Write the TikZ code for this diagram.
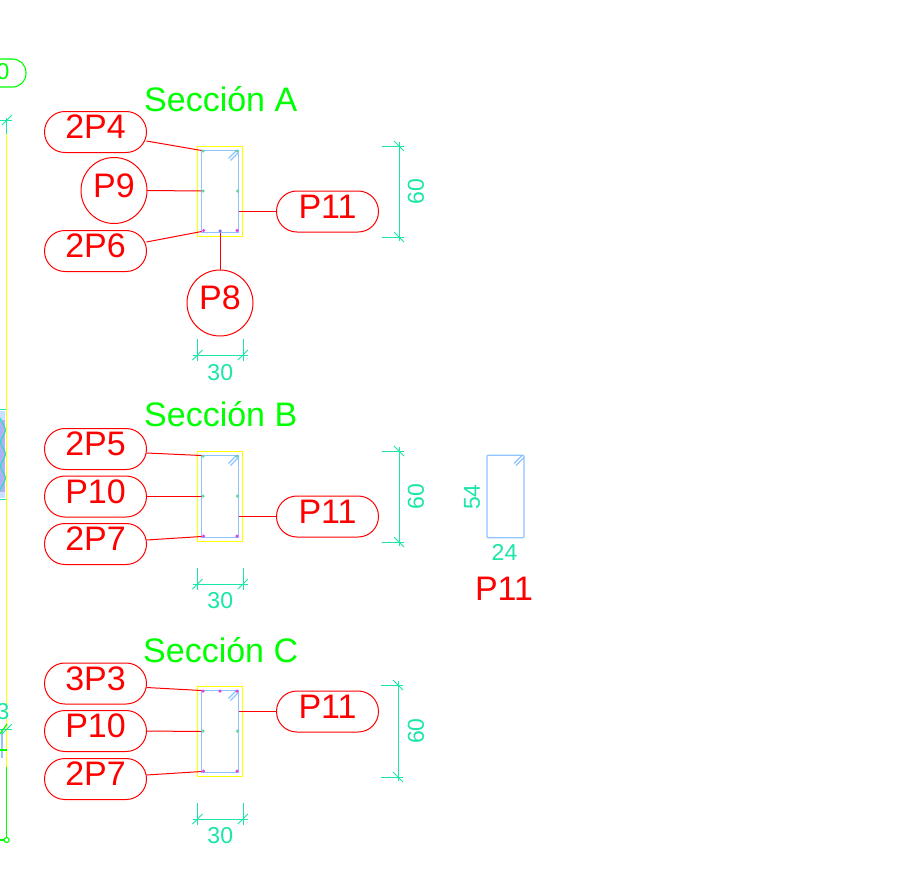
\documentclass[tikz,border=0pt]{standalone}
\usepackage{fontspec}
\setmainfont{Liberation Sans}
\definecolor{cadred}{HTML}{FF0000}
\definecolor{cadgreen}{HTML}{00FF00}
\definecolor{cadteal}{HTML}{19E6A8}
\definecolor{cadblue}{HTML}{8FC4FF}
\definecolor{cadyellow}{HTML}{FFFF00}
\definecolor{cadmag}{HTML}{E040F0}
\definecolor{cadmid}{HTML}{60D8A0}
\definecolor{cadvio}{HTML}{7070F0}
\tikzset{
  pill/.style={draw=cadred,line width=1pt,rounded corners=20.4pt,minimum width=102pt,minimum height=41pt,inner sep=0pt,outer sep=0pt,text=cadred,font=\fontsize{34}{34}\selectfont,text height=23pt,text depth=10pt},
  bubble/.style={circle,draw=cadred,line width=1pt,minimum size=66pt,inner sep=0pt,outer sep=0pt,text=cadred,font=\fontsize{34}{34}\selectfont,text height=23pt,text depth=10pt},
  lead/.style={draw=cadred,line width=1pt},
  beam/.style={draw=cadblue,line width=1.8pt,minimum width=37pt,minimum height=82pt,inner sep=0pt,outer sep=0pt},
  cover/.style={draw=cadyellow,line width=1.4pt,minimum width=45.5pt,minimum height=90.5pt,inner sep=0pt,outer sep=0pt},
  dimline/.style={draw=cadteal,line width=1pt},
  dimtext/.style={text=cadteal,inner sep=0pt,font=\fontsize{23}{23}\selectfont},
  seclabel/.style={text=cadgreen,inner sep=0pt,anchor=west,font=\fontsize{34}{34}\selectfont},
  plainred/.style={text=cadred,inner sep=0pt,font=\fontsize{34}{34}\selectfont},
  hookline/.style={draw=cadblue,line width=1.1pt},
  bar/.style={circle,inner sep=0pt,minimum size=3.5pt,fill=#1}
}
% horizontal dimension: left x, right x, y, label y
\newcommand{\hdim}[4]{
  \draw[dimline] (#1-5,#3) -- (#2+5,#3);
  \draw[dimline] (#1,#3-16) -- (#1,#3+6);
  \draw[dimline] (#2,#3-16) -- (#2,#3+6);
  \draw[dimline] (#1-5,#3+5) -- (#1+5,#3-5);
  \draw[dimline] (#2-5,#3+5) -- (#2+5,#3-5);
  \node[dimtext] at ({(#1+#2)/2},#4) {30};
}
% vertical dimension: x, top y, bottom y, label x
\newcommand{\vdim}[4]{
  \draw[dimline] (#1,#2-4) -- (#1,#3+4);
  \draw[dimline] (#1-17,#2) -- (#1+5,#2);
  \draw[dimline] (#1-17,#3) -- (#1+5,#3);
  \draw[dimline] (#1-5,#2-5) -- (#1+5,#2+5);
  \draw[dimline] (#1-5,#3-5) -- (#1+5,#3+5);
  \node[dimtext,rotate=90] at (#4,{(#2+#3)/2}) {60};
}
% hook marks at the top right corner of a stirrup: right x, top y
\newcommand{\hooks}[2]{
  \draw[hookline] (#1-10,#2+8) -- (#1-2,#2);
  \draw[hookline] (#1-8,#2+10) -- (#1,#2+2);
}
\begin{document}
\begin{tikzpicture}[x=1pt,y=-1pt]
\clip (0,0) rectangle (901,891);
\fill[white] (0,0) rectangle (901,891);

% left-hand cut-off element
\node[draw=cadgreen,line width=1.1pt,rounded corners=13.5pt,minimum width=60pt,minimum height=28pt,inner sep=0pt,outer sep=0pt,text=cadgreen,font=\fontsize{23}{23}\selectfont] (tag) at (-4,73) {\hspace*{14pt}\raisebox{2.5pt}{0}};
\fill[cadblue!50] (0,411) rectangle (4.5,498);
\fill[cadvio!55] (0,420) rectangle (4.5,492);
\draw[dimline] (0,409.5) -- (6.5,409.5) -- (6.5,499.5) -- (0,499.5);
\draw[dimline] (0,418) -- (6,430) -- (0,442) -- (6,454) -- (0,466) -- (6,478) -- (0,490);
\draw[cadyellow,line width=1.4pt] (6.7,118) -- (6.7,767);
\draw[dimline] (6.7,118) -- (6.7,134);
\draw[dimline] (0,120) -- (12,120);
\draw[dimline] (2,125) -- (12,115);
\node[dimtext] at (3,712) {3};
\draw[cadblue,line width=1.1pt] (2,730) -- (2,758);
\draw[dimline] (0,729) -- (12,729);
\draw[cadgreen,line width=1.1pt] (0,734) -- (7,724);
\draw[dimline] (2,734) -- (12,724);
\draw[cadgreen,line width=1.1pt] (0,750) -- (7,750);
\draw[cadgreen,line width=1.1pt] (6.7,767) -- (6.7,837.5);
\draw[cadgreen,line width=1.1pt] (0,840) -- (4.2,840);
\draw[cadgreen,line width=1.1pt] (6.7,840) circle (2.5);

% ---------- Seccion A
\node[seclabel] at (144,99) {Sección A};
\node[cover] (ca) at (220,191.5) {};
\node[beam] (sa) at (220,191.5) {};
\hooks{238.5}{150.5}
\node[pill] (a1) at (95.5,132) {2P4};
\node[bubble] (a2) at (114,190.5) {P9};
\node[pill] (a3) at (95.5,251) {2P6};
\node[bubble] (a4) at (220,303) {P8};
\node[pill] (a5) at (327.5,211.5) {P11};
\draw[lead] ([yshift=-9pt]a1.east) -- (sa.north west);
\draw[lead] (a2.east) -- ([yshift=0.5pt]sa.west);
\draw[lead] ([yshift=9pt]a3.east) -- ([yshift=1pt]sa.south west);
\draw[lead] (a4.north) -- (sa.south);
\draw[lead] (a5.west) -- ([yshift=-20pt]sa.east);
\node[bar=cadmid] at (203,151) {};
\node[bar=cadmid] at (237,151) {};
\node[bar=cadmid] at (203,191) {};
\node[bar=cadmid] at (237.5,191) {};
\node[bar=cadmag] at (203.5,230.5) {};
\node[bar=cadmag] at (237,230.5) {};
\node[bar=cadvio] at (220,231) {};
\hdim{197.5}{243}{355}{373}
\vdim{399}{146}{237}{416}

% ---------- Seccion B
\node[seclabel] at (144,414) {Sección B};
\node[cover] (cb) at (220,496.5) {};
\node[beam] (sb) at (220,496.5) {};
\hooks{238.5}{455.5}
\node[pill] (b1) at (95.5,449) {2P5};
\node[pill] (b2) at (95.5,496.5) {P10};
\node[pill] (b3) at (95.5,544) {2P7};
\node[pill] (b4) at (327.5,516.5) {P11};
\draw[lead] ([yshift=-4pt]b1.east) -- (sb.north west);
\draw[lead] (b2.east) -- (sb.west);
\draw[lead] ([yshift=4pt]b3.east) -- ([yshift=1pt]sb.south west);
\draw[lead] (b4.west) -- ([yshift=-20pt]sb.east);
\node[bar=cadmid] at (203,456) {};
\node[bar=cadmid] at (237,456) {};
\node[bar=cadmid] at (203,496) {};
\node[bar=cadmid] at (237.5,496) {};
\node[bar=cadmag] at (203.5,536) {};
\node[bar=cadmag] at (237,536) {};
\hdim{197.5}{243}{584}{601}
\vdim{399}{451}{542}{416}

% ---------- Seccion C
\node[seclabel] at (143,650) {Sección C};
\node[cover] (cc) at (220,731.5) {};
\node[beam] (sc) at (220,731.5) {};
\hooks{238.5}{690.5}
\node[pill] (c1) at (95.5,683.5) {3P3};
\node[pill] (c2) at (95.5,731) {P10};
\node[pill] (c3) at (95.5,779) {2P7};
\node[pill] (c4) at (327.5,711.5) {P11};
\draw[lead] ([yshift=-4pt]c1.east) -- (sc.north west);
\draw[lead] (c2.east) -- (sc.west);
\draw[lead] ([yshift=4pt]c3.east) -- ([yshift=1pt]sc.south west);
\draw[lead] (c4.west) -- ([yshift=20pt]sc.east);
\node[bar=cadmag] at (203,691) {};
\node[bar=cadmag] at (220,691) {};
\node[bar=cadmag] at (237,691) {};
\node[bar=cadmid] at (203,731) {};
\node[bar=cadmid] at (237.5,731) {};
\node[bar=cadmag] at (203.5,771) {};
\node[bar=cadmag] at (237,771) {};
\hdim{197.5}{243}{819}{836}
\vdim{398}{685}{777}{416}

% ---------- Bar P11 detail
\node[draw=cadblue,line width=1.1pt,rounded corners=1pt,minimum width=37pt,minimum height=82.5pt,inner sep=0pt,outer sep=0pt] (p11) at (505.5,496.5) {};
\hooks{524}{455.5}
\node[dimtext,rotate=90] at (472,497) {54};
\node[dimtext] at (504.5,552) {24};
\node[plainred] at (504,589) {P11};
\end{tikzpicture}
\end{document}
